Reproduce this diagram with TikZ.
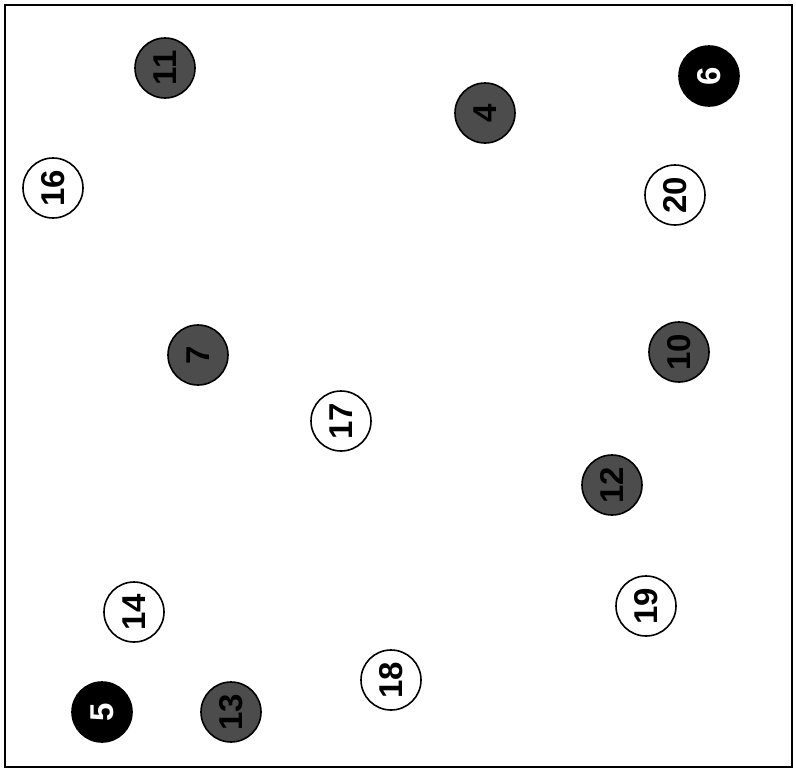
\documentclass[tikz,border=0pt]{standalone}
\usepackage{fontspec}
\setmainfont{Liberation Sans}
\begin{document}
\begin{tikzpicture}[x=1pt,y=-1pt,
  ball/.style={circle,draw=black,line width=1.6pt,minimum size=60pt,inner sep=0pt,rotate=90,
    font=\fontsize{33}{33}\selectfont\bfseries},
  wball/.style={ball,fill=white,text=black},
  gball/.style={ball,fill=black!70,text=black},
  bball/.style={ball,fill=black,text=white}]
\useasboundingbox (0,0) rectangle (796,772);
\draw[line width=1.6pt] (5,5) rectangle (792,767);
\node[gball] (n11) at (165,68) {11};
\node[gball] (n4) at (485,113) {4};
\node[bball] (n6) at (709,76) {6};
\node[wball] (n16) at (53,188) {16};
\node[wball] (n20) at (675,195) {20};
\node[gball] (n7) at (198,355) {7};
\node[gball] (n10) at (679,352) {10};
\node[wball] (n17) at (341,421) {17};
\node[gball] (n12) at (612,485) {12};
\node[wball] (n14) at (134,612) {14};
\node[wball] (n19) at (646,606) {19};
\node[wball] (n18) at (391,680) {18};
\node[bball] (n5) at (102,712) {5};
\node[gball] (n13) at (231,712) {13};
\end{tikzpicture}
\end{document}
